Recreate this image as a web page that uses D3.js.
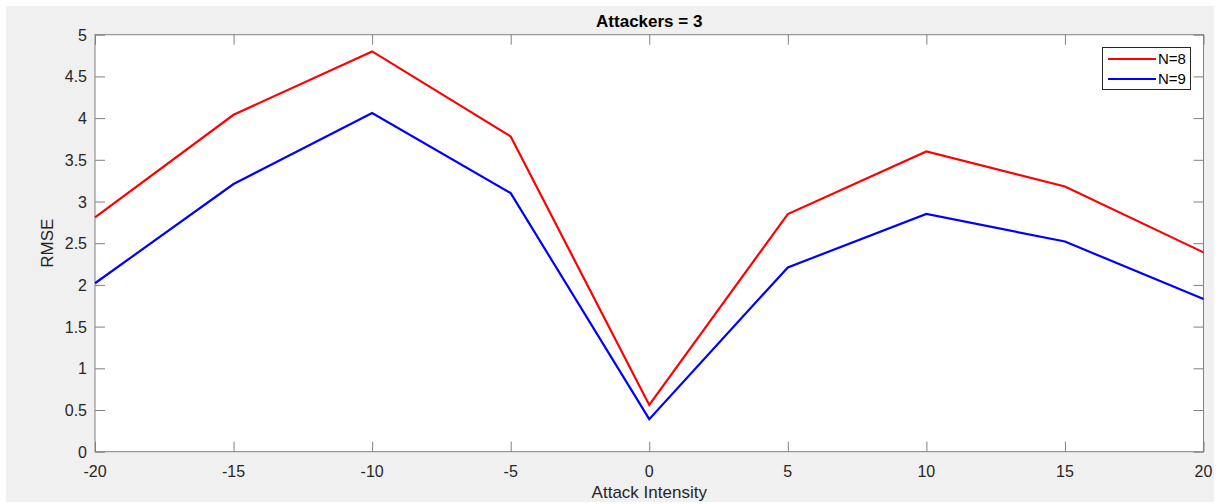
<!DOCTYPE html>
<html><head><meta charset="utf-8">
<script src="https://cdn.jsdelivr.net/npm/d3@7"></script>
<style>body{margin:0;background:#fff}svg{display:block}text{font-family:"Liberation Sans",Arial,sans-serif}</style>
</head><body><svg id="c" width="1224" height="504"></svg>
<script>
const xValues = [-20,-15,-10,-5,0,5,10,15,20];
const seriesN8 = [2.81,4.04,4.80,3.78,0.56,2.85,3.60,3.18,2.39];
const seriesN9 = [2.02,3.21,4.06,3.10,0.39,2.21,2.85,2.52,1.83];
const seriesNames = ["N=8","N=9"];
const seriesColors = ["#ff0000","#0000ff"];
const xTicks = [-20,-15,-10,-5,0,5,10,15,20];
const yTicks = [0,0.5,1,1.5,2,2.5,3,3.5,4,4.5,5];
const titleText = "Attackers = 3";
const xLabel = "Attack Intensity";
const yLabel = "RMSE";

const svg = d3.select("#c");
svg.append("rect").attr("x",6).attr("y",6).attr("width",1208).attr("height",496).attr("fill","#f0f0f0");
const L=95,R=1203.5,T=34.7,B=451.7;
const x=d3.scaleLinear().domain([-20,20]).range([L,R]);
const y=d3.scaleLinear().domain([0,5]).range([B,T]);
svg.append("rect").attr("x",L).attr("y",T).attr("width",R-L).attr("height",B-T).attr("fill","#fff");
const axCol="#808080", txtCol="#262626";
function styleAxis(g){g.select(".domain").remove();g.selectAll("line").attr("stroke",axCol);}
svg.append("g").attr("transform",`translate(0,${B})`).call(d3.axisTop(x).tickValues(xTicks).tickSize(10).tickFormat("")).call(styleAxis);
svg.append("g").attr("transform",`translate(0,${T})`).call(d3.axisBottom(x).tickValues(xTicks).tickSize(10).tickFormat("")).call(styleAxis);
svg.append("g").attr("transform",`translate(${L},0)`).call(d3.axisRight(y).tickValues(yTicks).tickSize(10).tickFormat("")).call(styleAxis);
svg.append("g").attr("transform",`translate(${R},0)`).call(d3.axisLeft(y).tickValues(yTicks).tickSize(10).tickFormat("")).call(styleAxis);
// labels
svg.append("g").selectAll("text").data(xTicks).join("text").attr("x",d=>x(d)).attr("y",B+25).attr("text-anchor","middle").attr("fill",txtCol).style("font-size","16px").text(d=>d);
svg.append("g").selectAll("text").data(yTicks).join("text").attr("x",L-8).attr("y",d=>y(d)+6).attr("text-anchor","end").attr("fill",txtCol).style("font-size","16px").text(d=>d);
svg.append("rect").attr("x",L).attr("y",T).attr("width",R-L).attr("height",B-T).attr("fill","none").attr("stroke",axCol).attr("stroke-width",1);
const line=d3.line().x((d,i)=>x(xValues[i])).y(d=>y(d));
[seriesN8,seriesN9].forEach((s,k)=>{
 svg.append("path").datum(s).attr("d",line).attr("fill","none").attr("stroke",seriesColors[k]).attr("stroke-width",2.2).attr("stroke-linejoin","miter");
});
svg.append("text").attr("x",(L+R)/2).attr("y",27).attr("text-anchor","middle").attr("font-weight","bold").style("font-size","17px").attr("fill","#000").text(titleText);
svg.append("text").attr("x",(L+R)/2).attr("y",498).attr("text-anchor","middle").style("font-size","17px").attr("fill",txtCol).text(xLabel);
svg.append("text").attr("transform",`translate(53,${(T+B)/2}) rotate(-90)`).attr("text-anchor","middle").style("font-size","17px").attr("fill",txtCol).text(yLabel);
// legend
const lg=svg.append("g");
lg.append("rect").attr("x",1102.5).attr("y",47.5).attr("width",88).attr("height",42).attr("fill","#fff").attr("stroke","#262626").attr("stroke-width",1);
seriesNames.forEach((n,k)=>{
 const yy=59+k*20;
 lg.append("line").attr("x1",1108).attr("x2",1156).attr("y1",yy).attr("y2",yy).attr("stroke",seriesColors[k]).attr("stroke-width",2.2);
 lg.append("text").attr("x",1158).attr("y",yy+5).style("font-size","15px").attr("fill","#000").text(n);
});
</script></body></html>
